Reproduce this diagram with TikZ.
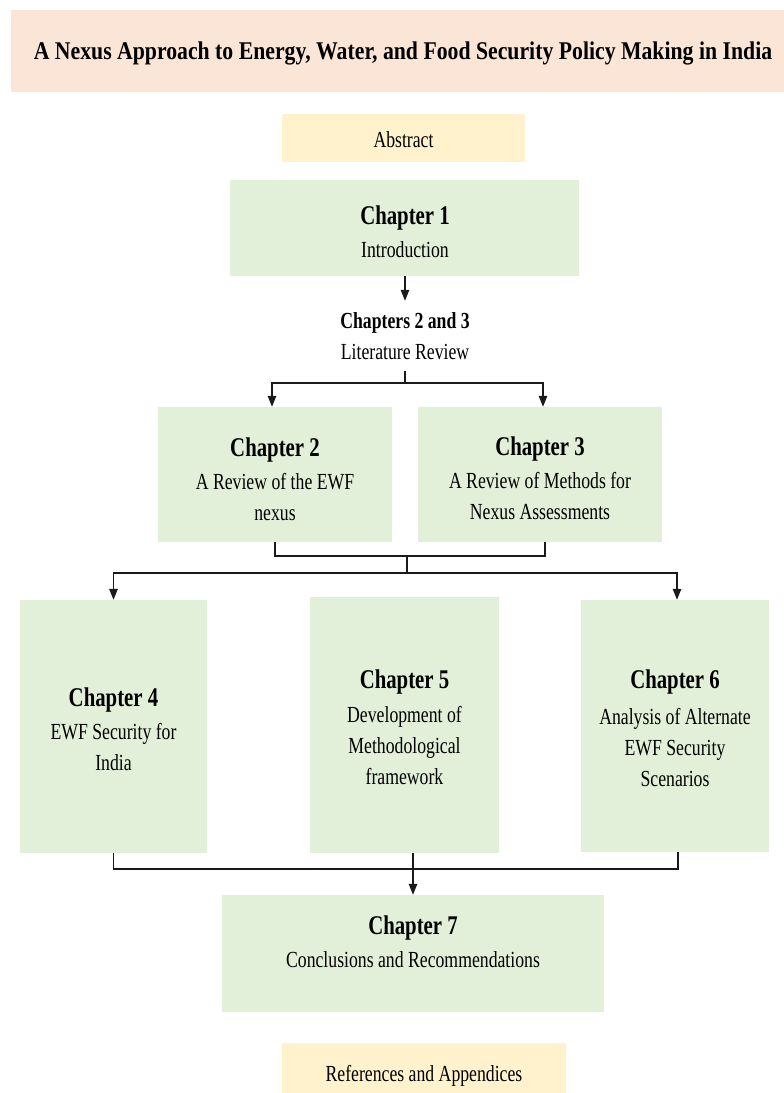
\documentclass[tikz,border=0pt]{standalone}
\usepackage{fontspec}
\setmainfont{Liberation Serif}[FakeStretch=0.77]
\newfontfamily\titlefont{Liberation Serif}[FakeStretch=0.853]
\usetikzlibrary{arrows.meta,calc}

\definecolor{titlefill}{HTML}{FBE5D6}
\definecolor{notefill}{HTML}{FFF2CC}
\definecolor{chapfill}{HTML}{E2F0D9}
\definecolor{linecol}{HTML}{1A1A1A}

\newcommand{\bodyfont}{\fontsize{23}{31}\selectfont}
\newcommand{\hd}[1]{{\fontsize{27}{31}\selectfont\bfseries #1}}

\begin{document}
\begin{tikzpicture}[x=1pt,y=-1pt,
  panel/.style={draw=none,inner sep=0pt,minimum width=#1},
  titlebox/.style={panel=#1,fill=titlefill},
  notebox/.style={panel=#1,fill=notefill},
  chapbox/.style={panel=#1,fill=chapfill},
  txt/.style={align=center,inner sep=0pt,font=\bodyfont,text=black},
  link/.style={draw=linecol,line width=1.3pt},
  arr/.style={link,-{Triangle[width=8.5pt,length=11pt]}}]
\useasboundingbox (0,0) rectangle (784,1093);

% boxes
\node[titlebox=783, minimum height=82] (title) at (402.5,51) {};
\node[notebox=243, minimum height=48] (abs) at (403.5,138) {};
\node[chapbox=349, minimum height=96] (ch1) at (404.5,228) {};
\node[chapbox=234, minimum height=135] (ch2) at (275,474.5) {};
\node[chapbox=244, minimum height=135] (ch3) at (540,474.5) {};
\node[chapbox=187, minimum height=253] (ch4) at (113.5,726.5) {};
\node[chapbox=189, minimum height=256] (ch5) at (404.5,725) {};
\node[chapbox=188, minimum height=252] (ch6) at (675,726) {};
\node[chapbox=382, minimum height=117] (ch7) at (413,953.5) {};
\node[notebox=284, minimum height=68] (refs) at (424,1077) {};

% texts
\node[txt,font=\titlefont\fontsize{25.5}{30}\selectfont\bfseries] (titlet) at (403,53)
  {A Nexus Approach to Energy, Water, and Food Security Policy Making in India};
\node[txt] (abst) at (403.5,140) {Abstract};
\node[txt] (ch1t) at (405,231.5) {\hd{Chapter 1}\\[2pt] Introduction};
\node[txt, minimum height=70] (lit) at (405,336)
  {{\bfseries Chapters 2 and 3}\\ Literature Review};
\node[txt] (ch2t) at (275,479) {\hd{Chapter 2}\\[2pt] A Review of the EWF\\ nexus};
\node[txt] (ch3t) at (540,478) {\hd{Chapter 3}\\[2pt] A Review of Methods for\\ Nexus Assessments};
\node[txt] (ch4t) at (113.5,729.5) {\hd{Chapter 4}\\[2pt] EWF Security for\\ India};
\node[txt] (ch5t) at (404.5,727.5) {\hd{Chapter 5}\\[3pt] Development of\\ Methodological\\ framework};
\node[txt] (ch6t) at (675,728.5) {\hd{Chapter 6}\\[5pt] Analysis of Alternate\\ EWF Security\\ Scenarios};
\node[txt] (ch7t) at (413,941.5) {\hd{Chapter 7}\\[2pt] Conclusions and Recommendations};
\node[txt] (refst) at (424,1076) {References and Appendices};

% junction points
\coordinate (j1) at (405,383);
\coordinate (j2) at (407,556);
\coordinate (j3) at (407,573);
\coordinate (j4) at (413,869);

% connectors
\draw[arr] (ch1.south -| lit.north) -- (lit.north);
\draw[link] (lit.south) -- (j1);
\draw[arr] (j1) -| ([xshift=-3pt]ch2.north);
\draw[arr] (j1) -| ([xshift=3pt]ch3.north);
\draw[link] (ch2.south) |- (j2) -| ([xshift=5pt]ch3.south);
\draw[link] (j2) -- (j3);
\draw[arr] (j3) -| (ch4.north);
\draw[arr] (j3) -| ([xshift=2pt]ch6.north);
\draw[link] (ch4.south) |- (j4) -| ([xshift=3pt]ch6.south);
\draw[arr] (ch5.south -| ch7.north) -- (ch7.north);
\end{tikzpicture}
\end{document}
